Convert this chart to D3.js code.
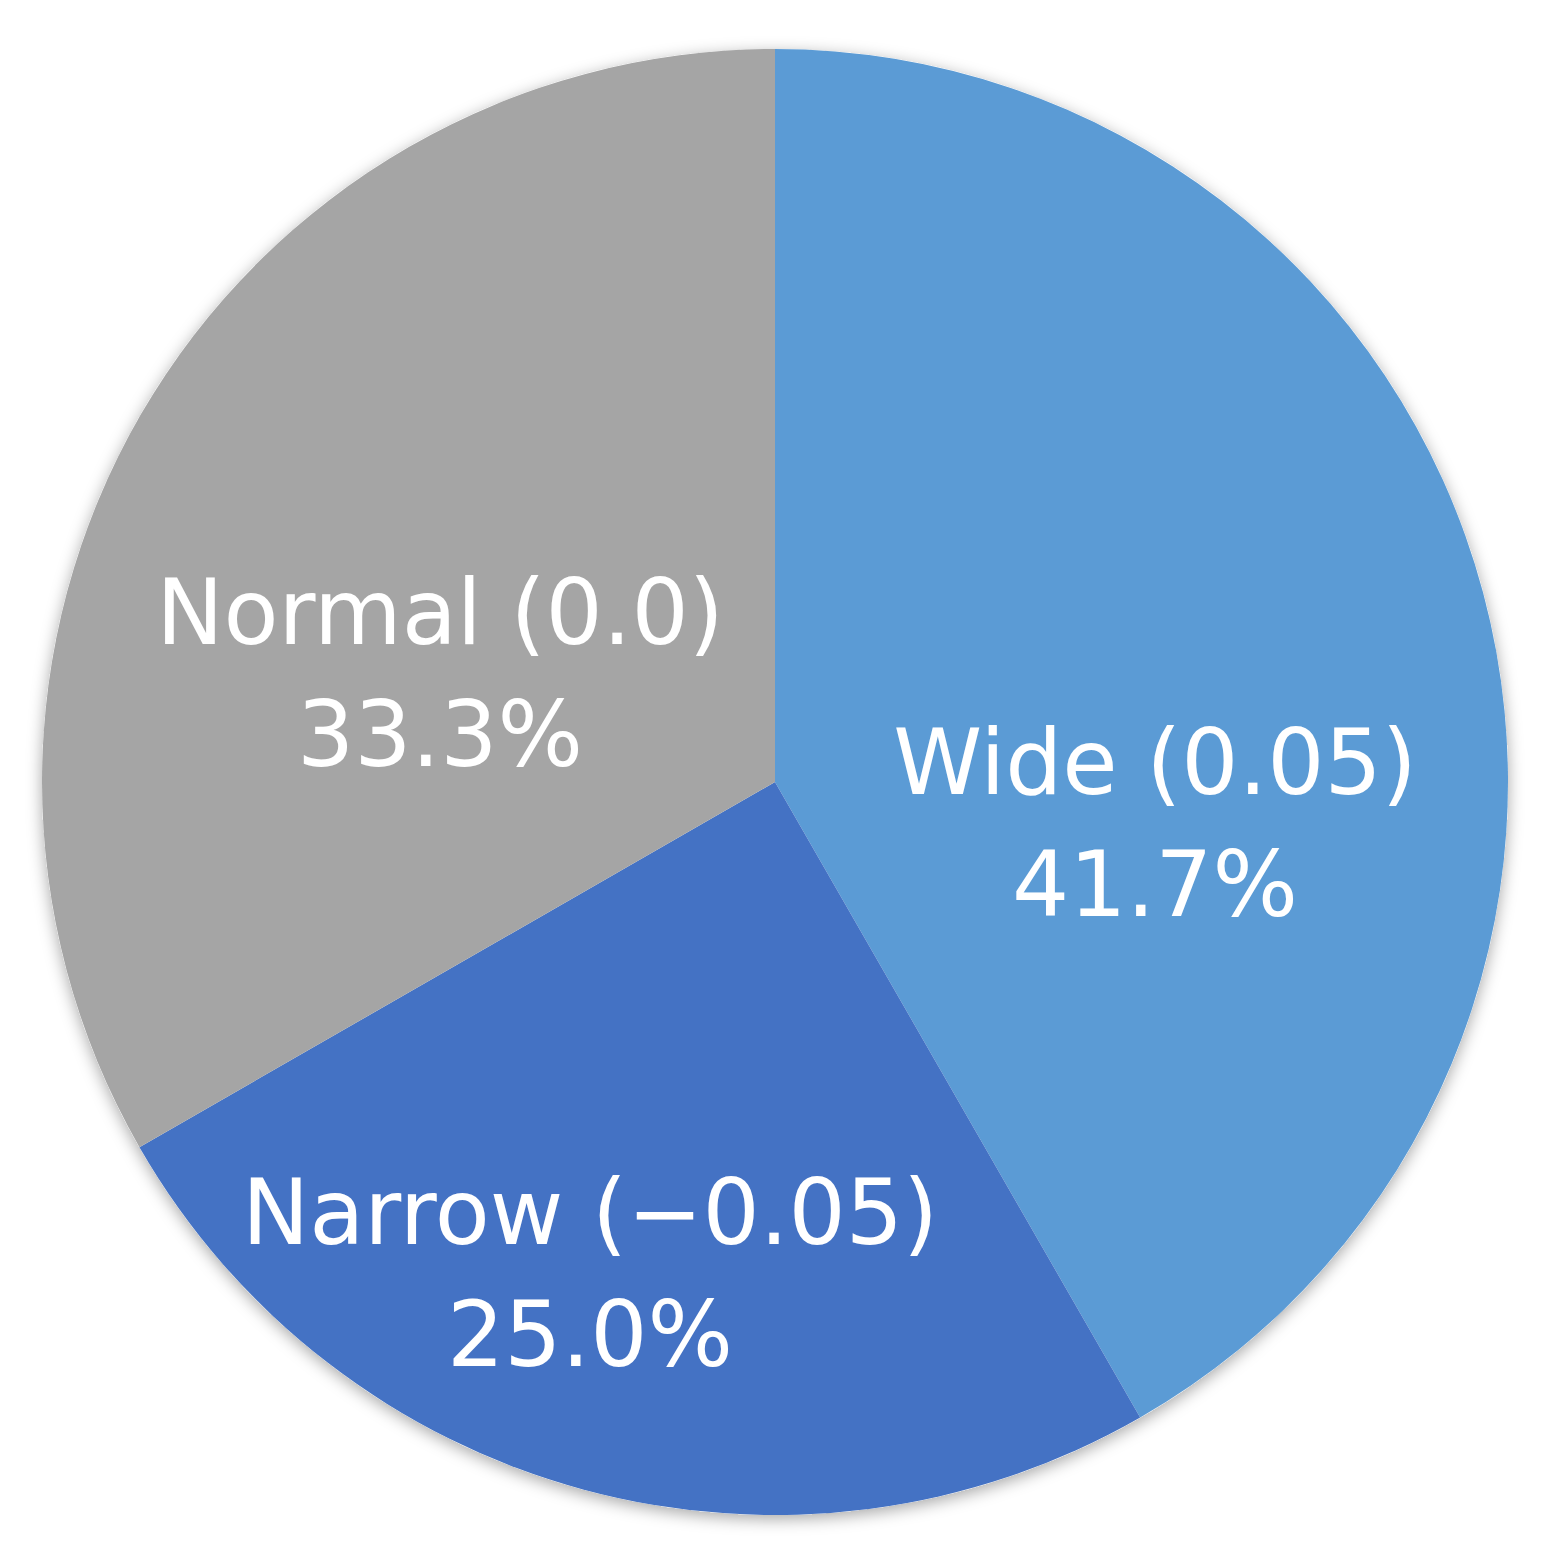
<!DOCTYPE html>
<html>
<head>
<meta charset="utf-8">
<script src="https://cdn.jsdelivr.net/npm/d3@7"></script>
<style>
  body { margin: 0; background: #fff; }
  svg { display: block; }
</style>
</head>
<body>
<div id="chart"></div>
<script>
const categories = ["Wide (0.05)", "Narrow (\u22120.05)", "Normal (0.0)"];
const shares = [41.7, 25.0, 33.3];
const colors = ["#5B9BD5", "#4472C4", "#A5A5A5"];

let width = 1546,
	height = 1553,
	cx = 775,
	cy = 782,
	radius = 733;

// label centres relative to pie centre (Excel "best fit" placement)
let labelOffset = [[380, 30], [-185, 480], [-335, -120]];

let svg = d3.select("#chart")
	.append("svg")
	.attr("width", width)
	.attr("height", height);

let defs = svg.append("defs");
let filter = defs.append("filter")
	.attr("id", "shadow")
	.attr("x", "-10%").attr("y", "-10%")
	.attr("width", "120%").attr("height", "120%");
filter.append("feDropShadow")
	.attr("dx", 0).attr("dy", 4)
	.attr("stdDeviation", 8)
	.attr("flood-color", "#000")
	.attr("flood-opacity", 0.35);

let g = svg.append("g")
	.attr("transform", "translate(" + cx + "," + cy + ")");

let pie = d3.pie().sort(null).value(function (d) { return d; });
let arcs = pie(shares);
let arc = d3.arc().innerRadius(0).outerRadius(radius);

g.append("circle")
	.attr("r", radius)
	.attr("fill", "#fff")
	.attr("filter", "url(#shadow)");

g.selectAll("path.slice")
	.data(arcs)
	.enter()
	.append("path")
	.attr("class", "slice")
	.attr("d", arc)
	.attr("fill", function (d, i) { return colors[i]; });

let labels = g.selectAll("text.label")
	.data(arcs)
	.enter()
	.append("text")
	.attr("class", "label")
	.attr("text-anchor", "middle")
	.attr("font-family", "DejaVu Sans, Verdana, sans-serif")
	.attr("font-size", 90)
	.attr("fill", "#fff")
	.attr("transform", function (d, i) {
		return "translate(" + labelOffset[i][0] + "," + labelOffset[i][1] + ")";
	});

labels.append("tspan")
	.attr("x", 0)
	.attr("dy", "-0.2em")
	.text(function (d, i) { return categories[i]; });
labels.append("tspan")
	.attr("x", 0)
	.attr("dy", "1.35em")
	.text(function (d, i) { return d3.format(".1f")(shares[i]) + "%"; });
</script>
</body>
</html>
